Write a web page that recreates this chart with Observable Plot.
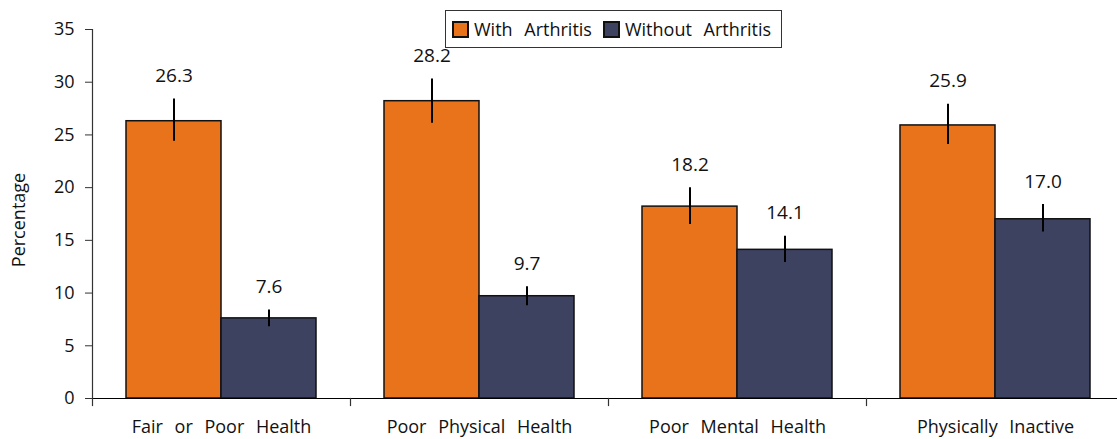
<!DOCTYPE html>
<html>
<head>
<meta charset="utf-8">
<script src="https://cdn.jsdelivr.net/npm/d3@7"></script>
<script src="https://cdn.jsdelivr.net/npm/@observablehq/plot@0.6"></script>
<style>
  html, body { margin: 0; padding: 0; overflow: hidden; background: #fff; }
  #chart { position: relative; width: 1117px; height: 439px; overflow: hidden; }
  #chart svg [aria-label='fx-axis tick label'] text { word-spacing: 7px; font-size: 18px; }
  #chart svg [aria-label='y-axis tick label'] text { font-size: 18px; }
  #chart svg [aria-label='y-title'] text { font-size: 16px; letter-spacing: 1.4px; }
  #legend {
    position: absolute; left: 445px; top: 10px; width: 337px; height: 38px;
    border: 1px solid #333; background: #fff; box-sizing: border-box;
    display: flex; align-items: center; padding-left: 7px;
  }
  #legend .key-swatches { min-height: 0 !important; margin: 0 !important; flex-wrap: nowrap !important; }
  #legend .key-swatch { margin-right: 12px !important; word-spacing: 7px; white-space: nowrap; }
  #legend .key-swatch > svg { margin-right: 6px !important; }
  #legend .key-swatch rect { stroke: #111; stroke-width: 2px; }
</style>
</head>
<body>
<div id="chart"></div>
<script>
// Share of adults reporting each outcome, by arthritis status (%)
const categories = ["Fair or Poor Health", "Poor Physical Health", "Poor Mental Health", "Physically Inactive"];
const groups = ["With Arthritis", "Without Arthritis"];
const withArthritis = [26.3, 28.2, 18.2, 25.9];
const withoutArthritis = [7.6, 9.7, 14.1, 17.0];
// 95% confidence intervals
const withLower = [24.4, 26.1, 16.5, 24.1];
const withUpper = [28.4, 30.3, 20.0, 27.9];
const withoutLower = [6.8, 8.8, 12.9, 15.8];
const withoutUpper = [8.4, 10.6, 15.4, 18.4];
const yTicks = [0, 5, 10, 15, 20, 25, 30, 35];
const colors = ["#E8731B", "#3E4261"];

const rows = categories.flatMap((category, i) => [
  {category, group: groups[0], value: withArthritis[i], lower: withLower[i], upper: withUpper[i]},
  {category, group: groups[1], value: withoutArthritis[i], lower: withoutLower[i], upper: withoutUpper[i]}
]);

const font = "'Open Sans', 'DejaVu Sans', sans-serif";
const marginTop = 29, marginBottom = 41, height = 439;
const innerHeight = height - marginTop - marginBottom;

const chart = Plot.plot({
  width: 1117,
  height,
  marginLeft: 92,
  marginRight: -7,
  marginTop,
  marginBottom,
  style: {fontFamily: font, fontSize: "18px", color: "#111", background: "transparent", overflow: "visible"},
  fx: {domain: categories, padding: 0, label: null},
  x: {domain: groups, paddingInner: 0, paddingOuter: 0.344, axis: null},
  y: {domain: [0, 35], label: null},
  color: {domain: groups, range: colors},
  marks: [
    Plot.barY(rows, {fx: "category", x: "group", y: "value", fill: "group", stroke: "#111", strokeWidth: 1.5, inset: 0}),
    Plot.ruleX(rows, {fx: "category", x: "group", y1: "lower", y2: "upper", stroke: "#000", strokeWidth: 2}),
    Plot.text(rows, {fx: "category", x: "group", y: "upper", text: d => d.value.toFixed(1), dy: -23, fontSize: 19, fill: "#111"}),
    Plot.ruleY([0], {stroke: "#000", strokeWidth: 1.2}),
    // short separators between categories, below the baseline
    Plot.frame({anchor: "left", insetTop: innerHeight, insetBottom: -7, stroke: "#333", strokeWidth: 1.2}),
    // vertical axis line
    Plot.frame({anchor: "left", facetAnchor: "left", stroke: "#333", strokeWidth: 1.2}),
    Plot.axisY(yTicks, {tickSize: 7, tickPadding: 11, stroke: "#333", label: null}),
    Plot.text(["Percentage"], {frameAnchor: "left", facetAnchor: "left", textAnchor: "middle", rotate: -90, dx: -73, dy: 6, fill: "#111", ariaLabel: "y-title"}),
    Plot.axisFx({tickSize: 0, tickPadding: 22, label: null, anchor: "bottom"})
  ]
});

const holder = document.getElementById("chart");
holder.appendChild(chart);

const legendBox = document.createElement("div");
legendBox.id = "legend";
legendBox.appendChild(chart.legend("color", {swatchSize: 15, className: "key", style: {fontFamily: font, fontSize: "18px", color: "#111"}}));
holder.appendChild(legendBox);
</script>
</body>
</html>
